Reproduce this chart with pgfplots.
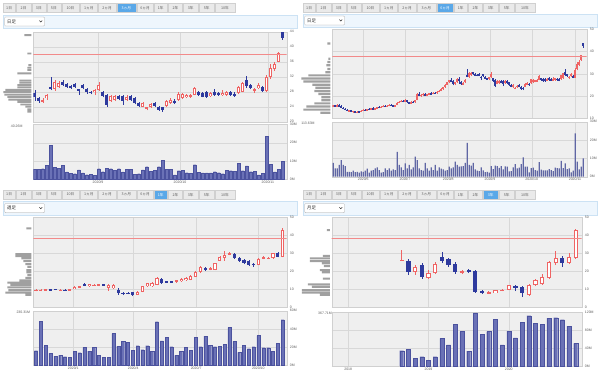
\documentclass[border=0pt]{standalone}
\usepackage{pgfplots}
\pgfplotsset{compat=1.18}
\usepackage{pgfplotstable}
\usepackage{fontspec}
\setmainfont{Liberation Sans}
\newfontfamily\jp{Noto Sans CJK JP}
\definecolor{bgc}{HTML}{EFEFEF}
\definecolor{gridc}{HTML}{D8D8D8}
\definecolor{axc}{HTML}{D0D0D0}
\definecolor{labc}{HTML}{5E5E5E}
\definecolor{upc}{HTML}{EF6464}
\definecolor{dnc}{HTML}{2E3A9E}
\definecolor{volc}{HTML}{6A71B6}
\definecolor{volb}{HTML}{4B529E}
\definecolor{profc}{HTML}{A0A0A0}
\definecolor{refc}{HTML}{F28A8A}
\definecolor{tabc}{HTML}{EAEAEA}
\definecolor{tabb}{HTML}{D0D0D0}
\definecolor{selc}{HTML}{5AA8E8}
\definecolor{bandc}{HTML}{EEF6FD}
\definecolor{bandb}{HTML}{CCE2F4}

% ---------- panel 1: daily, 3 months ----------
\pgfplotstableread{
i o h l c
0 27.7 28.4 25.6 26.7
1 26.3 26.6 25.0 25.4
2 25.3 26.2 25.0 25.8
3 26.2 27.5 25.8 27.1
4 29.3 32.0 28.4 28.6
5 28.6 31.0 28.3 30.5
6 29.3 30.8 29.0 30.2
7 30.6 31.0 29.5 29.9
8 30.0 30.4 29.0 29.3
9 29.5 29.8 28.8 29.1
10 30.0 30.3 29.0 29.2
11 28.6 28.8 27.2 28.4
12 29.8 30.1 28.6 29.0
13 28.7 29.0 27.5 27.8
14 28.0 28.3 27.3 27.6
15 27.8 28.6 27.1 28.4
16 28.5 30.6 28.2 29.8
17 28.0 28.3 26.5 26.9
18 27.1 27.5 24.0 24.5
19 25.6 27.2 25.3 26.9
20 25.8 27.1 25.5 26.8
21 26.8 27.1 25.7 26.0
22 26.8 27.1 24.5 25.6
23 25.8 27.0 25.5 26.6
24 26.8 27.2 25.5 25.8
25 26.2 26.5 24.6 24.9
26 25.0 25.2 23.9 24.2
27 24.0 25.2 23.8 24.9
28 23.4 24.0 23.0 23.8
29 24.0 25.0 23.7 24.7
30 24.9 25.2 23.9 24.2
31 24.0 24.3 22.9 23.2
32 23.8 24.0 22.7 23.0
33 24.2 25.8 24.0 25.5
34 25.0 26.2 24.8 25.8
35 25.6 26.0 24.7 24.9
36 25.8 27.8 25.6 27.5
37 26.2 27.6 26.0 27.3
38 26.5 27.4 26.2 27.1
39 26.7 27.5 26.4 27.1
40 27.1 29.3 27.0 28.9
41 28.0 28.3 26.8 27.1
42 27.6 27.9 26.5 26.7
43 27.8 28.2 26.4 26.7
44 26.9 27.9 26.7 27.6
45 28.0 28.6 26.9 27.1
46 27.6 28.0 26.9 27.1
47 27.1 28.4 26.9 27.7
48 27.1 28.3 26.9 28.0
49 27.8 28.1 26.8 27.1
50 27.5 27.9 26.6 26.9
51 27.6 29.6 27.3 29.3
52 28.0 30.5 27.8 30.2
53 31.0 32.1 29.0 29.4
54 29.8 30.0 28.6 28.9
55 28.3 29.0 27.6 28.6
56 28.9 30.2 28.6 29.8
57 29.2 29.5 28.0 28.3
58 28.2 32.5 28.0 31.8
59 32.0 35.5 31.5 34.2
60 34.0 36.0 33.5 35.5
61 36.0 38.5 35.8 38.3
62 43.8 44.0 41.8 42.4
}\dA
\pgfplotstableread{
i v
0 5.5
1 5.6
2 5.8
3 7.6
4 18.5
5 6.5
6 6.0
7 7.6
8 4.0
9 3.3
10 3.1
11 5.1
12 3.5
13 2.5
14 2.7
15 2.2
16 5.8
17 4.2
18 6.0
19 5.8
20 4.8
21 5.8
22 4.0
23 5.6
24 5.5
25 2.9
26 3.1
27 5.1
28 6.9
29 4.5
30 4.9
31 6.9
32 10.5
33 5.5
34 5.5
35 2.4
36 4.7
37 4.9
38 3.6
39 3.3
40 8.0
41 3.9
42 3.5
43 3.5
44 3.5
45 4.2
46 3.6
47 3.1
48 4.9
49 4.7
50 4.5
51 8.7
52 4.7
53 7.3
54 4.2
55 4.5
56 2.4
57 3.3
58 23.6
59 8.2
60 4.0
61 5.5
62 10.0
}\vA
\pgfplotstableread{
p w
43.1 7
38.2 4
35.1 3
34.4 4
33.8 4
32.9 14
31.0 12
30.4 12
29.8 14
29.2 14
28.5 26
27.9 28
27.2 27
26.6 24
25.9 23
25.3 14
24.6 11
24.0 6
23.3 4
22.7 4
}\pA

% ---------- panel 2: daily, 6 months (first part; rest = panel 1 data) ----------
\pgfplotstableread{
i o h l c
0 15.2 16.0 15.0 15.8
1 15.8 16.2 15.3 15.5
2 15.5 16.3 15.4 16.0
3 16.0 16.4 15.2 15.4
4 15.4 15.8 14.6 14.8
5 14.8 15.0 14.0 14.2
6 14.2 14.6 13.6 13.8
7 13.8 14.1 13.2 13.4
8 13.4 13.9 13.0 13.6
9 13.6 13.8 12.8 13.0
10 13.0 13.5 12.6 13.2
11 13.2 13.4 12.5 12.8
12 12.8 13.2 12.4 13.0
13 13.0 13.3 12.6 12.9
14 12.9 13.6 12.8 13.4
15 13.4 14.0 13.2 13.8
16 13.8 14.2 13.4 13.6
17 13.6 14.4 13.5 14.2
18 14.2 14.6 13.8 14.0
19 14.0 14.8 13.9 14.6
20 14.6 14.9 14.0 14.2
21 14.2 14.7 14.0 14.5
22 14.5 15.3 14.4 15.1
23 15.1 15.4 14.6 14.8
24 14.8 15.5 14.7 15.3
25 15.3 15.8 15.0 15.6
26 15.6 15.9 15.0 15.2
27 15.2 15.9 15.1 15.7
28 15.7 16.3 15.5 16.1
29 16.1 16.4 15.6 15.8
30 15.8 16.2 15.4 15.6
31 15.6 16.0 15.2 15.9
32 15.9 17.4 15.8 17.1
33 17.1 17.8 16.8 17.5
34 17.5 18.2 17.2 17.9
35 17.9 18.3 17.2 17.4
36 17.4 18.5 17.3 18.2
37 18.2 18.4 17.0 17.2
38 17.2 17.5 16.4 16.6
39 16.6 17.6 16.5 17.4
40 17.4 17.8 16.9 17.2
41 17.2 18.3 17.0 18.1
42 18.1 21.2 18.0 20.8
43 20.8 21.6 19.8 20.2
44 20.2 20.8 19.7 20.5
45 20.5 21.2 20.1 20.9
46 20.9 21.3 20.2 20.4
47 20.4 21.0 20.0 20.8
48 20.8 21.5 20.5 21.2
49 21.2 21.6 20.6 20.9
50 20.9 21.7 20.8 21.5
51 21.5 21.9 21.0 21.3
52 21.3 22.2 21.1 22.0
53 22.0 22.6 21.6 22.3
54 22.3 23.4 22.1 23.1
55 23.1 24.2 22.9 24.0
56 24.0 25.3 23.8 25.1
57 25.1 26.4 24.9 26.2
58 26.2 27.3 25.7 27.0
59 27.0 27.9 26.4 26.6
60 26.6 27.0 24.8 25.2
61 25.2 26.4 24.9 26.1
62 26.1 28.0 25.9 27.6
}\dB
\pgfplotstableread{
i v
0 7.6
1 4.5
2 4.5
3 6.4
4 9.1
5 6.4
6 5.8
7 2.7
8 2.7
9 2.5
10 3.3
11 2.5
12 2.7
13 2.2
14 2.9
15 2.7
16 3.3
17 4.4
18 2.2
19 3.3
20 3.6
21 4.5
22 5.1
23 3.6
24 2.2
25 2.5
26 4.5
27 3.6
28 4.5
29 3.3
30 4.0
31 3.6
32 13.6
33 6.4
34 5.1
35 3.6
36 7.3
37 4.5
38 6.4
39 4.0
40 5.1
41 10.9
42 9.1
43 4.5
44 3.6
45 3.3
46 7.6
47 4.5
48 3.3
49 5.1
50 3.6
51 6.4
52 3.3
53 5.1
54 4.4
55 4.0
56 3.3
57 3.6
58 5.5
59 4.5
60 5.1
61 8.2
62 6.4
}\vB
\pgfplotstableread{
p w
43.6 3
36.8 2
35.3 3
33.8 4
32.2 3
30.7 5
29.3 22
27.9 29
26.5 27
25.1 18
23.7 15
22.3 16
20.9 12
19.5 9
18.1 9
16.7 16
15.3 24
13.9 27
12.5 10
}\pB

% ---------- panel 3: weekly, 1 year ----------
\pgfplotstableread{
i o h l c
0 9.1 10.0 8.8 9.6
1 9.2 10.3 8.8 9.7
2 9.5 10.3 9.2 9.9
3 10.0 10.2 9.3 9.6
4 10.1 10.4 9.5 9.8
5 9.5 10.1 9.2 9.8
6 9.8 10.0 9.2 9.5
7 9.6 10.3 9.4 10.1
8 10.3 11.9 10.1 11.5
9 11.2 12.0 11.0 11.6
10 13.0 13.3 11.7 12.0
11 11.7 13.2 11.5 12.9
12 12.3 13.0 12.0 12.6
13 11.9 13.2 11.7 13.0
14 12.6 12.8 12.0 12.4
15 10.8 12.8 9.3 12.4
16 10.6 12.8 10.2 12.4
17 9.7 10.5 6.9 7.9
18 8.2 8.5 6.8 7.6
19 8.2 8.4 7.2 7.6
20 8.3 8.6 6.5 7.1
21 7.0 9.0 6.8 8.7
22 8.6 12.1 8.4 11.8
23 11.6 13.6 11.3 13.3
24 11.6 14.0 11.2 13.7
25 12.5 16.8 12.2 16.4
26 15.8 16.5 13.0 13.6
27 14.5 14.8 13.5 14.0
28 14.4 14.8 13.8 14.1
29 14.0 15.4 13.6 15.0
30 14.5 16.2 14.2 15.8
31 15.0 16.6 14.7 16.3
32 15.4 17.8 15.0 17.5
33 17.0 20.4 16.8 19.8
34 19.4 23.2 19.0 22.5
35 21.8 22.3 20.4 21.2
36 21.2 22.5 20.5 21.8
37 20.8 24.8 20.5 24.4
38 26.0 28.5 25.5 28.0
39 27.5 31.5 26.0 29.0
40 29.3 30.7 28.8 30.0
41 29.8 30.3 26.8 27.3
42 27.4 27.8 25.2 25.7
43 26.3 26.7 24.0 24.5
44 25.8 26.2 23.2 23.5
45 24.2 24.8 22.4 23.6
46 23.5 27.2 23.3 26.8
47 27.2 28.5 26.6 27.7
48 27.1 28.0 26.6 27.5
49 27.2 30.2 26.9 29.9
50 30.0 30.6 27.8 28.1
51 28.2 44.0 27.8 43.0
}\dC
\pgfplotstableread{
i v
0 16.0
1 48.4
2 22.2
3 13.1
4 10.2
5 11.3
6 9.5
7 8.7
8 15.6
9 13.8
10 19.6
11 15.6
12 19.6
13 10.9
14 8.7
15 8.7
16 34.9
17 20.7
18 26.5
19 25.5
20 16.4
21 21.5
22 17.1
23 21.5
24 15.6
25 48.0
26 26.9
27 30.5
28 20.4
29 10.9
30 15.6
31 19.6
32 16.7
33 30.5
34 20.4
35 32.0
36 21.8
37 20.4
38 21.1
39 22.9
40 41.5
41 26.2
42 14.2
43 21.8
44 18.2
45 20.4
46 32.7
47 19.3
48 19.3
49 15.3
50 24.0
51 50.2
}\vC
\pgfplotstableread{
p w
43.8 5
29.6 16
28.5 16
27.2 10
25.7 8
24.0 6
22.5 4
20.7 5
19.4 5
17.9 4
16.4 6
15.0 12
13.7 24
12.4 21
11.1 24
9.6 23
8.2 26
6.9 6
}\pC

% ---------- panel 4: monthly, 3 years (month 0 = 2018/1) ----------
\pgfplotstableread{
i o h l c
8 26.0 31.7 25.8 26.5
9 26.0 27.0 18.0 19.5
10 19.5 23.5 18.0 22.5
11 23.7 24.5 16.0 17.0
12 16.5 20.6 15.7 19.3
13 19.0 25.0 18.5 24.0
14 28.0 30.7 24.6 25.6
15 26.7 27.4 22.4 23.7
16 24.0 25.0 18.7 19.5
17 19.5 21.0 18.5 20.2
18 20.6 21.2 19.0 19.5
19 20.0 20.5 8.0 8.5
20 9.2 9.5 7.5 8.0
21 7.9 8.8 7.3 8.3
22 8.1 9.8 7.8 9.4
23 9.2 10.0 9.0 9.6
24 9.8 12.6 9.5 12.2
25 11.9 12.5 9.0 10.7
26 11.5 12.0 6.0 7.8
27 7.0 13.0 6.5 12.6
28 12.6 16.0 12.0 15.0
29 12.8 18.5 12.5 17.0
30 16.5 25.5 16.0 25.0
31 24.5 31.3 23.5 27.5
32 27.5 28.7 22.4 24.5
33 24.5 30.0 24.0 27.8
34 27.5 43.5 27.0 42.8
}\dD
\pgfplotstableread{
i v
8 34.3
9 37.0
10 17.0
11 21.0
12 12.7
13 21.0
14 62.0
15 47.0
16 93.0
17 77.0
18 33.5
19 119.0
20 71.0
21 77.0
22 105.0
23 47.0
24 78.0
25 63.0
26 98.0
27 112.5
28 95.0
29 93.0
30 107.0
31 108.0
32 103.6
33 89.0
34 50.7
}\vD
\pgfplotstableread{
p w
42.9 3
28.6 7
27.2 20
25.7 20
24.4 8
22.9 6
20.7 10
19.4 8
16.0 7
12.7 22
11.3 18
9.6 28
8.2 28
6.9 10
}\pD

% candles: #1 table, #2 x expr, #3 body width, #4 inner width, #5 inner shrink, #6 min half body
\pgfplotsset{
  cnd/.style n args={3}{draw=none, mark=none, forget plot,
    error bars/y dir=#1, error bars/y explicit, error bars/error mark=none,
    error bars/error bar style={draw=#2, solid, line width=#3}},
}
\newcommand{\candles}[6]{%
\addplot[cnd={plus}{upc}{0.6pt}, restrict expr to domain={\thisrow{c}-\thisrow{o}}{0:1000}]
  table[x expr={#2}, y=l, y error expr={\thisrow{h}-\thisrow{l}}] {#1};
\addplot[cnd={plus}{dnc}{0.6pt}, restrict expr to domain={\thisrow{c}-\thisrow{o}}{-1000:-0.00001}]
  table[x expr={#2}, y=l, y error expr={\thisrow{h}-\thisrow{l}}] {#1};
\addplot[cnd={both}{upc}{#3}, restrict expr to domain={\thisrow{c}-\thisrow{o}}{0:1000}]
  table[x expr={#2}, y expr={(\thisrow{o}+\thisrow{c})/2}, y error expr={max(abs(\thisrow{c}-\thisrow{o})/2,#6)}] {#1};
\addplot[cnd={both}{white}{#4}, restrict expr to domain={\thisrow{c}-\thisrow{o}}{0:1000}]
  table[x expr={#2}, y expr={(\thisrow{o}+\thisrow{c})/2}, y error expr={max(abs(\thisrow{c}-\thisrow{o})/2-#5,0)}] {#1};
\addplot[cnd={both}{dnc}{#3}, restrict expr to domain={\thisrow{c}-\thisrow{o}}{-1000:-0.00001}]
  table[x expr={#2}, y expr={(\thisrow{o}+\thisrow{c})/2}, y error expr={max(abs(\thisrow{c}-\thisrow{o})/2,#6)}] {#1};
}

\pgfplotsset{
  pbase/.style={scale only axis, anchor=north west,
    axis background/.style={fill=bgc},
    axis line style={draw=axc, line width=0.3pt},
    tick style={draw=none},
    xmajorgrids, ymajorgrids,
    major grid style={draw=gridc, line width=0.35pt},
    ticklabel style={font=\fontsize{3.5}{4}\selectfont, text=labc},
    yticklabel pos=right,
    yticklabel style={anchor=west, inner sep=0.5pt, xshift=2.5bp},
    xticklabel style={inner sep=1pt, yshift=-0.5bp},
    /pgf/number format/assume math mode=true},
  prof/.style={scale only axis, anchor=north west, hide axis, x dir=reverse, xmin=0, xmax=29.3, clip=false},
  refline/.style={draw=refc, line width=1bp, forget plot},
}

\newcommand{\tabrow}[3]{%
  \foreach \a/\b/\t [count=\k] in {2.7/15.5/1日, 16.2/31/2日, 31.7/46/3日, 46.7/61/5日, 61.7/79.3/10日, 80/97.6/1ヵ月, 98.3/116/2ヵ月, 116.7/136/3ヵ月, 136.7/153.3/6ヵ月, 154/167.6/1年, 168.3/182.6/2年, 183.3/198.3/3年, 199/214.3/5年, 215/235/10年}{%
    \ifnum\k=#3\relax\def\fc{selc}\def\tc{white}\else\def\fc{tabc}\def\tc{labc}\fi
    \filldraw[fill=\fc, draw=tabb, line width=0.3pt] (#1+\a,#2+3.3) rectangle (#1+\b,#2+12.5);
    \node[font=\jp\fontsize{3.7}{4}\selectfont, text=\tc, inner sep=0] at ({#1+(\a+\b)/2},#2+7.9) {\t};
  }%
}
\newcommand{\ddbar}[3]{%
  \filldraw[fill=bandc, draw=bandb, line width=0.3pt] (#1+2.7,#2+14.7) rectangle (#1+296.7,#2+28.3);
  \filldraw[fill=white, draw=black!35, line width=0.3pt, rounded corners=0.8] (#1+4.7,#2+17) rectangle (#1+44.5,#2+26);
  \node[anchor=west, font=\jp\fontsize{4.4}{5}\selectfont, text=black!85, inner sep=0] at (#1+7,#2+21.5) {#3};
  \draw[black!80, line width=0.5pt] (#1+39.4,#2+20.5) -- (#1+40.8,#2+22.1) -- (#1+42.2,#2+20.5);
}

\begin{document}
\begin{tikzpicture}
\path[use as bounding box] (0,0) rectangle (600bp,-374bp);
\fill[white] (0,0) rectangle (600bp,-374bp);

\begin{scope}[x=1bp, y=-1bp]
  \tabrow{0}{0}{8}
  \ddbar{0}{0}{日足}
  \tabrow{300}{0}{9}
  \ddbar{300}{-1}{日足}
  \tabrow{0}{186.7}{10}
  \ddbar{0}{186.7}{週足}
  \tabrow{300}{186.7}{12}
  \ddbar{300}{186.7}{月足}
  \node[font=\fontsize{3.5}{4}\selectfont, text=labc, inner sep=0] at (16.7,125.8) {40.26M};
  \node[font=\fontsize{3.5}{4}\selectfont, text=labc, inner sep=0] at (308,123.5) {113.63M};
  \node[font=\fontsize{3.5}{4}\selectfont, text=labc, inner sep=0] at (23.3,311.8) {230.31M};
  \node[font=\fontsize{3.5}{4}\selectfont, text=labc, inner sep=0] at (325,313.3) {367.71M};
\end{scope}

% ===== Panel 1 =====
\begin{axis}[prof, at={(2bp,-31.7bp)}, width=29.3bp, height=90bp, ymin=20, ymax=44]
\addplot[xbar, bar width=1.9bp, bar shift=0pt, fill=profc, draw=none] table[x=w, y=p] {\pA};
\end{axis}
\begin{axis}[pbase, at={(33.3bp,-31.7bp)}, width=253.4bp, height=90bp,
  xmin=-0.4, xmax=63, ymin=20, ymax=44, ytick={20,24,...,44},
  xtick={15.8,36.3,58.3}, xticklabels={}]
\candles{\dA}{\thisrow{i}}{2.8bp}{0.9bp}{0.26}{0.08}
\addplot[refline] coordinates {(-5,38) (200,38)};
\end{axis}
\begin{axis}[pbase, at={(33.3bp,-124.5bp)}, width=253.4bp, height=54.8bp,
  xmin=-0.4, xmax=63, ymin=0, ymax=30, ytick={0,10,20,30}, yticklabels={0M,10M,20M,30M},
  xtick={15.8,36.3,58.3}, xticklabels={2020/9,2020/10,2020/11}]
\addplot[ybar, bar width=2.6bp, bar shift=0pt, fill=volc, draw=volb, line width=0.2pt] table[x=i, y=v] {\vA};
\end{axis}

% ===== Panel 2 =====
\begin{axis}[prof, at={(301bp,-29.3bp)}, width=29.3bp, height=89bp, ymin=10, ymax=50]
\addplot[xbar, bar width=2.2bp, bar shift=0pt, fill=profc, draw=none] table[x=w, y=p] {\pB};
\end{axis}
\begin{axis}[pbase, at={(332.3bp,-29.3bp)}, width=254.4bp, height=89bp,
  xmin=-0.5, xmax=126.7, ymin=10, ymax=50, ytick={10,20,...,50},
  xtick={15,35.85,57.5,78.35,99.2,120.85}, xticklabels={}]
\candles{\dB}{\thisrow{i}}{1.7bp}{0.1bp}{100}{0.14}
\candles{\dA}{\thisrow{i}+63}{1.7bp}{0.1bp}{100}{0.14}
\addplot[refline] coordinates {(-5,38) (300,38)};
\end{axis}
\begin{axis}[pbase, at={(332.3bp,-121.7bp)}, width=254.4bp, height=55bp,
  xmin=-0.5, xmax=126.7, ymin=0, ymax=30, ytick={0,10,20,30}, yticklabels={0M,10M,20M,30M},
  xtick={15,35.85,57.5,78.35,99.2,120.85}, xticklabels={2020/6,2020/7,2020/8,2020/9,2020/10,2020/11}]
\addplot[ybar, bar width=1.15bp, bar shift=0pt, fill=volc!90!black, draw=none] table[x=i, y=v] {\vB};
\addplot[ybar, bar width=1.15bp, bar shift=0pt, fill=volc!90!black, draw=none] table[x expr=\thisrow{i}+63, y=v] {\vA};
\end{axis}

% ===== Panel 3 =====
\begin{axis}[prof, at={(2bp,-217.3bp)}, width=29.3bp, height=90bp, ymin=0, ymax=50]
\addplot[xbar, bar width=2bp, bar shift=0pt, fill=profc, draw=none] table[x=w, y=p] {\pC};
\end{axis}
\begin{axis}[pbase, at={(33.3bp,-217.3bp)}, width=253.4bp, height=90bp,
  xmin=-0.56, xmax=51.83, ymin=0, ymax=50, ytick={0,10,...,50},
  xtick={7.71,20.1,33.1,45.96}, xticklabels={}]
\candles{\dC}{\thisrow{i}}{3.2bp}{1.2bp}{0.55}{0.17}
\addplot[refline] coordinates {(-5,38) (100,38)};
\end{axis}
\begin{axis}[pbase, at={(33.3bp,-310.7bp)}, width=253.4bp, height=54.6bp,
  xmin=-0.56, xmax=51.83, ymin=0, ymax=60, ytick={0,20,40,60}, yticklabels={0M,20M,40M,60M},
  xtick={7.71,20.1,33.1,45.96}, xticklabels={2020/1,2020/4,2020/7,2020/10}]
\addplot[ybar, bar width=3.1bp, bar shift=0pt, fill=volc, draw=volb, line width=0.2pt] table[x=i, y=v] {\vC};
\end{axis}

% ===== Panel 4 =====
\begin{axis}[prof, at={(300.5bp,-217.3bp)}, width=29.3bp, height=90bp, ymin=0, ymax=50]
\addplot[xbar, bar width=2bp, bar shift=0pt, fill=profc, draw=none] table[x=w, y=p] {\pD};
\end{axis}
\begin{axis}[pbase, at={(331.7bp,-217.3bp)}, width=250bp, height=90bp,
  xmin=-2.47, xmax=34.9, ymin=0, ymax=50, ytick={0,10,...,50},
  xtick={0,12,24}, xticklabels={}]
\candles{\dD}{\thisrow{i}}{4.2bp}{2.2bp}{0.55}{0.17}
\addplot[refline] coordinates {(-5,38) (100,38)};
\end{axis}
\begin{axis}[pbase, at={(331.7bp,-312.3bp)}, width=250bp, height=53.7bp,
  xmin=-2.47, xmax=34.9, ymin=0, ymax=120, ytick={0,40,80,120}, yticklabels={0M,40M,80M,120M},
  xtick={0,12,24}, xticklabels={2018,2019,2020}]
\addplot[ybar, bar width=4.0bp, bar shift=0pt, fill=volc, draw=volb, line width=0.2pt] table[x=i, y=v] {\vD};
\end{axis}
\end{tikzpicture}
\end{document}
